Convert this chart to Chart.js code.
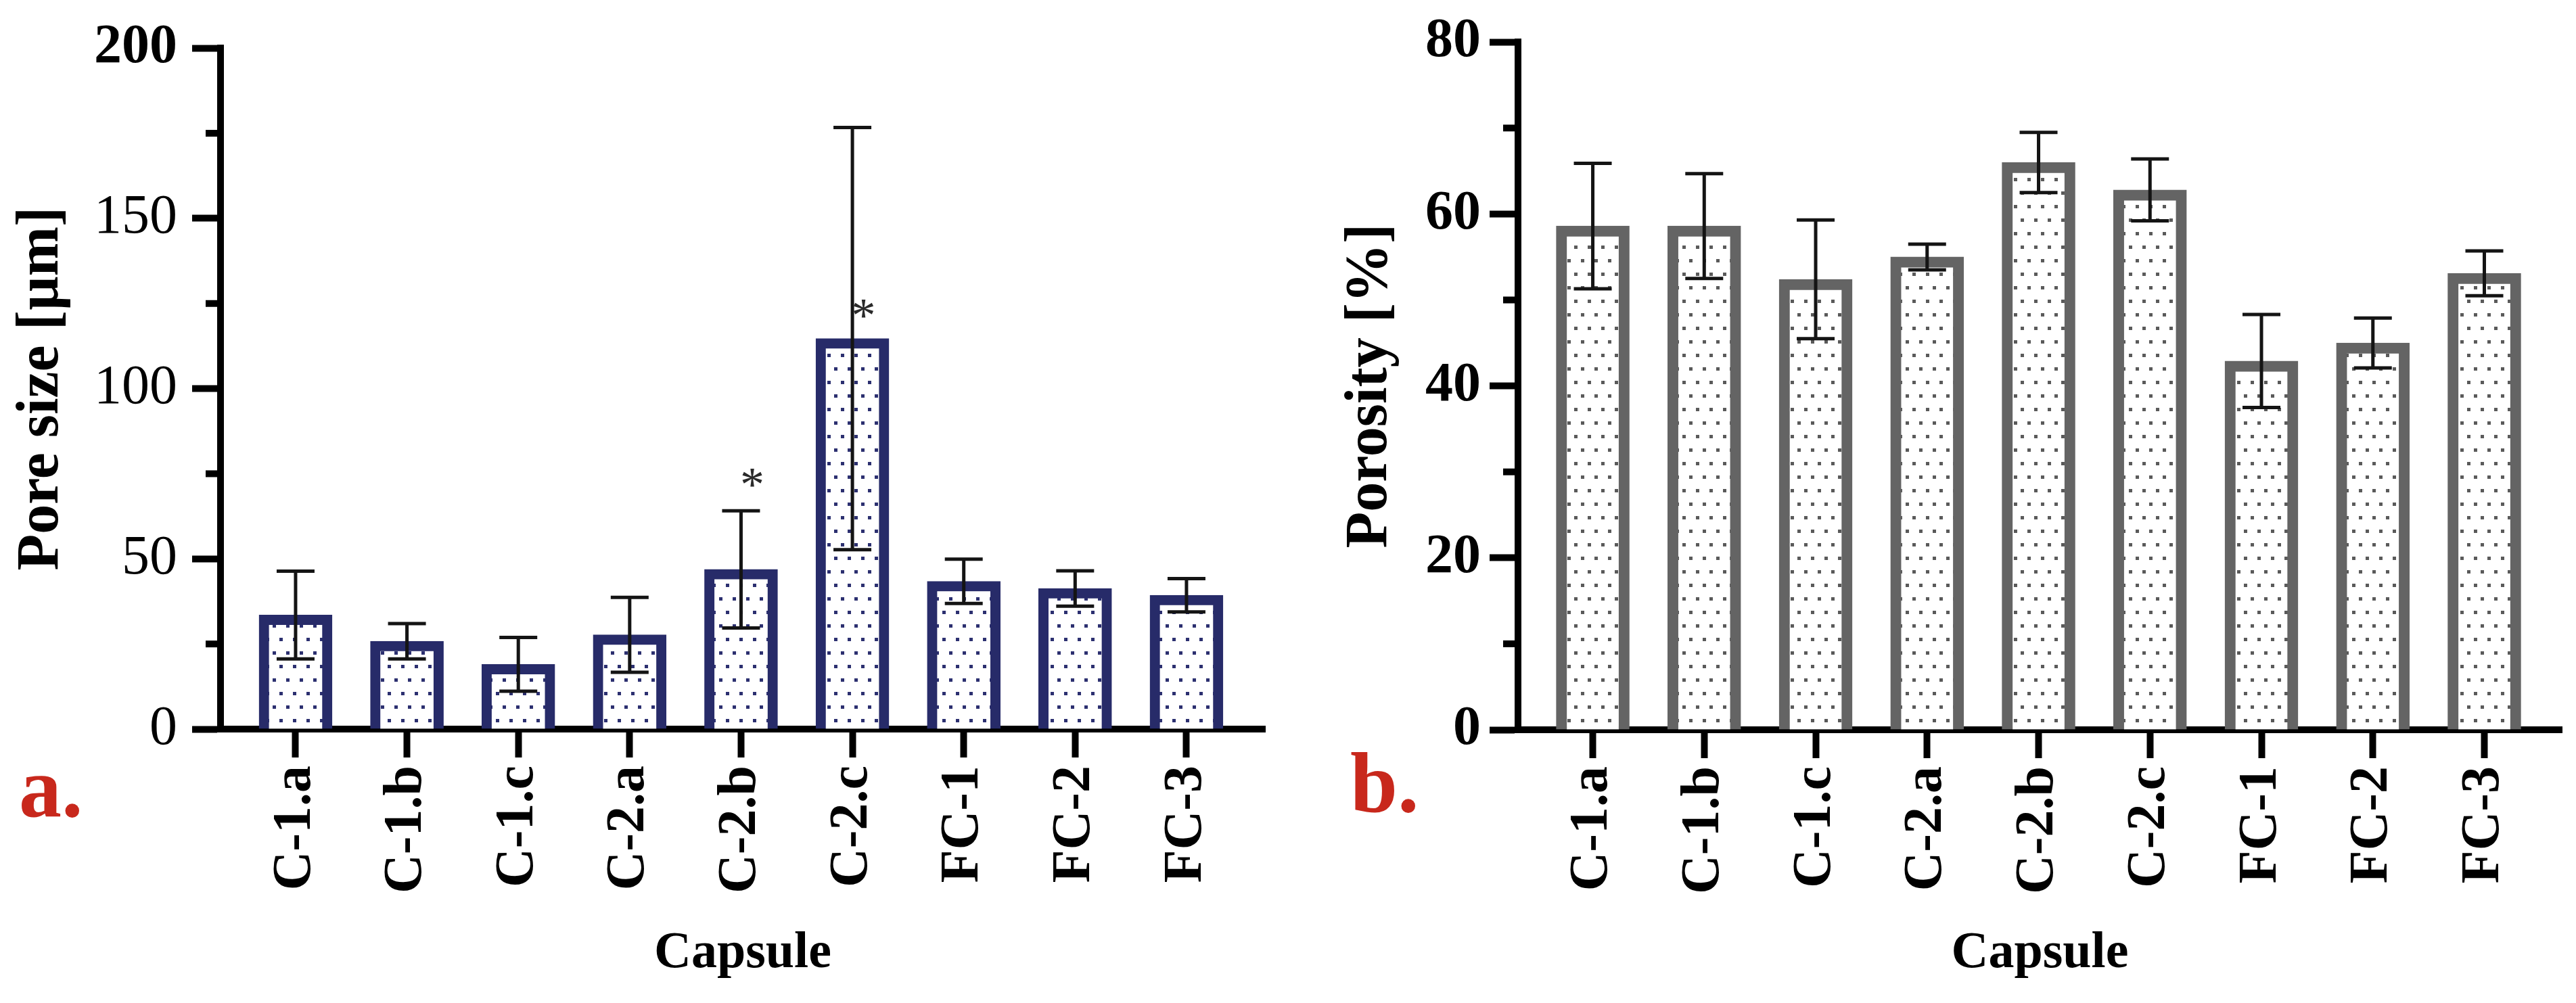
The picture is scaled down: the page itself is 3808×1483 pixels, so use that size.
<!DOCTYPE html>
<html>
<head>
<meta charset="utf-8">
<script src="https://cdn.jsdelivr.net/npm/chart.js@4.4.1/dist/chart.umd.min.js"></script>
<style>
  html, body { margin: 0; padding: 0; background: #fff; }
  #wrap { position: relative; width: 3808px; height: 1483px; }
  .panel { position: absolute; top: 0; width: 1904px; height: 1483px; }
</style>
</head>
<body>
<div id="wrap">
  <div class="panel" style="left:0"><canvas id="pore" width="1904" height="1483"></canvas></div>
  <div class="panel" style="left:1904px"><canvas id="poro" width="1904" height="1483"></canvas></div>
</div>
<script>
// data
const capsules = ['C-1.a', 'C-1.b', 'C-1.c', 'C-2.a', 'C-2.b', 'C-2.c', 'FC-1', 'FC-2', 'FC-3'];
const poreMean = [33.5, 25.8, 19.0, 27.7, 46.9, 114.7, 43.4, 41.3, 39.3];
const poreSd = [12.9, 5.2, 7.9, 11.0, 17.2, 62.0, 6.5, 5.2, 4.9];
const poreStars = ['', '', '', '', '*', '*', '', '', ''];
const poreStarLevel = [null, null, null, null, 73.8, 123.4, null, null, null];
const porosityMean = [58.6, 58.6, 52.4, 55.0, 66.0, 62.8, 42.9, 45.0, 53.1];
const porositySd = [7.3, 6.1, 6.9, 1.5, 3.5, 3.6, 5.4, 2.9, 2.6];
const poreTicks = [0, 50, 100, 150, 200];
const poreMinor = [25, 75, 125, 175];
const porosityTicks = [0, 20, 40, 60, 80];
const porosityMinor = [10, 30, 50, 70];

const FONT = "'Liberation Serif', 'Times New Roman', serif";

function dots(canvasId, color, size) {
  const c = document.createElement('canvas');
  c.width = 20; c.height = 40;
  const g = c.getContext('2d');
  g.fillStyle = '#fff';
  g.fillRect(0, 0, 20, 40);
  g.fillStyle = color;
  g.fillRect(3, 3, size, size);
  g.fillRect(13, 23, size, size);
  return document.getElementById(canvasId).getContext('2d').createPattern(c, 'repeat');
}

// error bars, minor ticks, stars and the panel letter
const extras = {
  id: 'extras',
  afterDatasetsDraw(chart, args, o) {
    const { ctx } = chart;
    const xs = chart.scales.x, ys = chart.scales.y;
    ctx.save();
    ctx.strokeStyle = '#141414';
    ctx.lineWidth = 5;
    o.mean.forEach((m, i) => {
      const px = xs.getPixelForValue(i);
      const top = ys.getPixelForValue(m + o.sd[i]);
      const bot = ys.getPixelForValue(m - o.sd[i]);
      ctx.beginPath();
      ctx.moveTo(px, top); ctx.lineTo(px, bot);
      ctx.moveTo(px - 28, top); ctx.lineTo(px + 28, top);
      ctx.moveTo(px - 28, bot); ctx.lineTo(px + 28, bot);
      ctx.stroke();
    });
    if (o.stars) {
      ctx.fillStyle = '#2a2a2a';
      ctx.font = '72px ' + FONT;
      ctx.textAlign = 'left';
      ctx.textBaseline = 'alphabetic';
      o.stars.forEach((s, i) => {
        if (!s) return;
        const m = ctx.measureText(s);
        const cx = xs.getPixelForValue(i + 0.1);
        const cy = ys.getPixelForValue(o.starLevel[i]);
        const w = m.actualBoundingBoxRight + m.actualBoundingBoxLeft;
        const h = m.actualBoundingBoxAscent + m.actualBoundingBoxDescent;
        ctx.fillText(s, cx - w / 2 + m.actualBoundingBoxLeft, cy + h / 2 - m.actualBoundingBoxDescent);
      });
    }
    ctx.restore();
  },
  afterDraw(chart, args, o) {
    const { ctx, chartArea } = chart;
    const ys = chart.scales.y;
    ctx.save();
    ctx.strokeStyle = '#000';
    ctx.lineWidth = 10;
    o.minor.forEach(v => {
      const py = ys.getPixelForValue(v);
      ctx.beginPath();
      ctx.moveTo(chartArea.left - 22, py);
      ctx.lineTo(chartArea.left, py);
      ctx.stroke();
    });
    ctx.fillStyle = '#c8281c';
    ctx.font = 'bold 126px ' + FONT;
    ctx.textBaseline = 'alphabetic';
    ctx.fillText(o.letter, o.letterX, o.letterY);
    ctx.restore();
  }
};

function makeChart(id, cfg) {
  return new Chart(document.getElementById(id), {
    type: 'bar',
    data: {
      datasets: [{
        data: cfg.mean.map((v, i) => ({ x: i, y: v })),
        backgroundColor: dots(id, cfg.dot, 5),
        borderColor: cfg.border,
        borderWidth: cfg.borderWidth,
        barThickness: 108
      }]
    },
    options: {
      responsive: false,
      animation: false,
      layout: { padding: cfg.padding },
      plugins: {
        legend: { display: false },
        tooltip: { enabled: false },
        extras: {
          mean: cfg.mean, sd: cfg.sd, stars: cfg.stars, starLevel: cfg.starLevel,
          minor: cfg.minor, letter: cfg.letter, letterX: cfg.letterX, letterY: cfg.letterY
        }
      },
      scales: {
        x: {
          type: 'linear',
          bounds: 'data',
          offset: false,
          min: cfg.xMin,
          max: cfg.xMax,
          afterBuildTicks: s => { s.ticks = capsules.map((_, i) => ({ value: i })); },
          afterFit: s => { s.height = 1483 - cfg.bottom; },
          ticks: {
            autoSkip: false,
            minRotation: 90,
            maxRotation: 90,
            padding: 12,
            color: '#000',
            font: { family: FONT, size: 80, weight: 'bold' },
            callback: v => capsules[v]
          },
          grid: { offset: false, drawOnChartArea: false, tickLength: 42, tickWidth: 10, tickColor: '#000' },
          border: { display: true, width: 10, color: '#000' },
          title: {
            display: true, text: 'Capsule', color: '#000',
            font: { family: FONT, size: 76, weight: 'bold' },
            padding: { top: 0, bottom: 27 }
          }
        },
        y: {
          min: 0,
          max: cfg.ticks[cfg.ticks.length - 1],
          afterBuildTicks: s => { s.ticks = cfg.ticks.map(v => ({ value: v })); },
          afterFit: s => { s.width = cfg.axisX; },
          ticks: {
            padding: cfg.tickPad,
            color: '#000',
            font: ctx => ({ family: FONT, size: 82, weight: cfg.tickWeight(ctx.tick ? ctx.tick.value : 0) })
          },
          grid: { drawOnChartArea: false, tickLength: 42, tickWidth: 10, tickColor: '#000' },
          border: { display: true, width: 10, color: '#000' },
          title: {
            display: true, text: cfg.title, color: '#000',
            font: { family: FONT, size: 88, weight: 'bold' },
            padding: { top: cfg.titlePad, bottom: 0 }
          }
        }
      }
    },
    plugins: [extras]
  });
}

makeChart('pore', {
  mean: poreMean, sd: poreSd, stars: poreStars, starLevel: poreStarLevel,
  ticks: poreTicks, minor: poreMinor,
  tickWeight: v => (v === 200 ? 'bold' : 'normal'),
  title: 'Pore size [µm]',
  dot: '#2c3070', border: '#272b69', borderWidth: 15,
  xMin: -0.674, xMax: 8.705,
  padding: { left: 0, right: 34, top: 54, bottom: 0 },
  axisX: 326, bottom: 1078, tickPad: 22, titlePad: 9,
  letter: 'a.', letterX: 28, letterY: 1207
});

makeChart('poro', {
  mean: porosityMean, sd: porositySd, stars: null, starLevel: null,
  ticks: porosityTicks, minor: porosityMinor,
  tickWeight: () => 'bold',
  title: 'Porosity [%]',
  dot: '#5a5a5a', border: '#646464', borderWidth: 16,
  xMin: -0.671, xMax: 8.695,
  padding: { left: 0, right: 21, top: 52, bottom: 0 },
  axisX: 340, bottom: 1079, tickPad: 13, titlePad: 69,
  letter: 'b.', letterX: 92, letterY: 1200
});
</script>
</body>
</html>
